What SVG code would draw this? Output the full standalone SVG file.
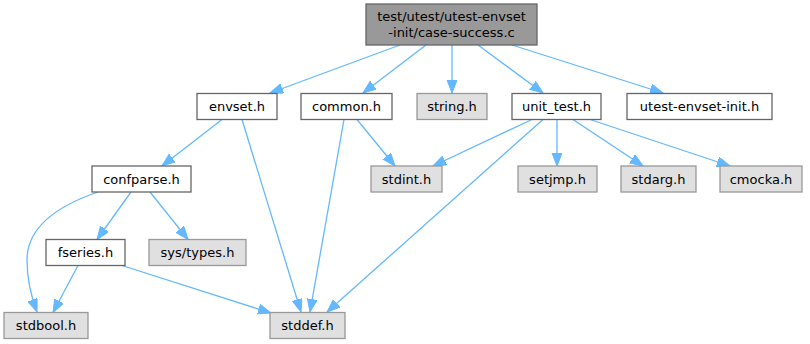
<svg xmlns="http://www.w3.org/2000/svg" width="810" height="344" viewBox="0 0 810 344">
  <style>
    .n rect { fill: #ffffff; stroke: #666666; stroke-width: 1.3; }
    .n.root rect { fill: #999999; stroke: #666666; }
    .n.sys rect { fill: #e0e0e0; stroke: #999999; }
    .n text { font-family: "DejaVu Sans", sans-serif; font-size: 13px; fill: #000000; text-anchor: middle; }
    .e path { fill: none; stroke: #63b8ff; stroke-width: 1.3; marker-end: url(#arr); }
  </style>
  <defs>
    <marker id="arr" markerUnits="userSpaceOnUse" markerWidth="16" markerHeight="12" refX="13" refY="5" orient="auto">
      <path d="M0,0 L13,5 L0,10 z" fill="#63b8ff" stroke="#63b8ff" stroke-width="1"/>
    </marker>
  </defs>

  <!-- include edges -->
  <g id="edges" class="e">
    <path d="M400,45 L270,93"/>
    <path d="M426,45 L363,93"/>
    <path d="M452,45 L452,93"/>
    <path d="M478,45 L543,93"/>
    <path d="M512,45 L663,93"/>
    <path d="M222,119.5 L162,166"/>
    <path d="M242,119.5 L301,312"/>
    <path d="M357,119.5 L395,166"/>
    <path d="M344,119.5 L310,312"/>
    <path d="M532,119.5 L433,166"/>
    <path d="M543,119.5 L327,312"/>
    <path d="M557,119.5 L557,166"/>
    <path d="M573,119.5 L643,166"/>
    <path d="M590,119.5 L730,166"/>
    <path d="M98,192 C60,205 27,225 27,260 C27,280 31,296 37,312"/>
    <path d="M131,192 L97,239.5"/>
    <path d="M150,192 L188,239.5"/>
    <path d="M78,265.5 L53,312.5"/>
    <path d="M122,265.5 L271,313"/>
  </g>

  <g id="node-root" class="n root">
    <rect x="366" y="4" width="171" height="41"/>
    <text x="451.5" y="21">test/utest/utest-envset</text>
    <text x="451.5" y="37">-init/case-success.c</text>
  </g>
  <g id="node-envset" class="n">
    <rect x="197" y="93.5" width="80" height="26"/>
    <text x="237" y="111">envset.h</text>
  </g>
  <g id="node-common" class="n">
    <rect x="301" y="93.5" width="91" height="26"/>
    <text x="346.5" y="111">common.h</text>
  </g>
  <g id="node-string" class="n sys">
    <rect x="417" y="93.5" width="70" height="26"/>
    <text x="452" y="111">string.h</text>
  </g>
  <g id="node-unit_test" class="n">
    <rect x="512" y="93.5" width="89" height="26"/>
    <text x="556.5" y="111">unit_test.h</text>
  </g>
  <g id="node-utest-envset-init" class="n">
    <rect x="627" y="93.5" width="145" height="26"/>
    <text x="699.5" y="111">utest-envset-init.h</text>
  </g>
  <g id="node-confparse" class="n">
    <rect x="92" y="166" width="99" height="26"/>
    <text x="141.5" y="183.5">confparse.h</text>
  </g>
  <g id="node-stdint" class="n sys">
    <rect x="371" y="166" width="71" height="26"/>
    <text x="406.5" y="183.5">stdint.h</text>
  </g>
  <g id="node-setjmp" class="n sys">
    <rect x="518" y="166" width="79" height="26"/>
    <text x="557.5" y="183.5">setjmp.h</text>
  </g>
  <g id="node-stdarg" class="n sys">
    <rect x="621" y="166" width="75" height="26"/>
    <text x="658.5" y="183.5">stdarg.h</text>
  </g>
  <g id="node-cmocka" class="n sys">
    <rect x="720" y="166" width="82" height="26"/>
    <text x="761" y="183.5">cmocka.h</text>
  </g>
  <g id="node-fseries" class="n">
    <rect x="46" y="239.5" width="79" height="26"/>
    <text x="85.5" y="257">fseries.h</text>
  </g>
  <g id="node-systypes" class="n sys">
    <rect x="149" y="239.5" width="97" height="26"/>
    <text x="197.5" y="257">sys/types.h</text>
  </g>
  <g id="node-stdbool" class="n sys">
    <rect x="4" y="312.5" width="84" height="26"/>
    <text x="46" y="330">stdbool.h</text>
  </g>
  <g id="node-stddef" class="n sys">
    <rect x="270" y="312.5" width="75" height="26"/>
    <text x="307.5" y="330">stddef.h</text>
  </g>
</svg>
